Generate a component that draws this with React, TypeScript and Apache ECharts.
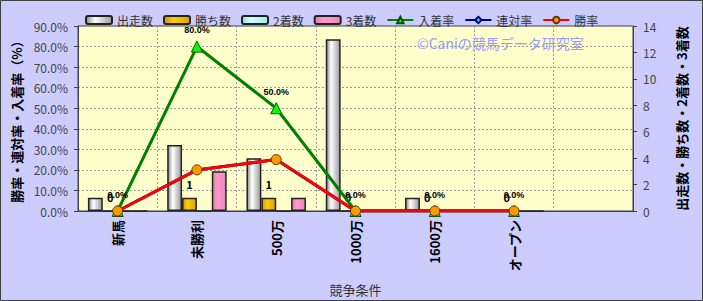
import React, { useEffect, useRef } from "react";
import * as echarts from "echarts";

const categories = ["新馬", "未勝利", "500万", "1000万", "1600万", "オープン", ""];
const starts = [1, 5, 4, 13, 1, 0, null];
const wins = [0, 1, 1, 0, 0, 0, null];
const seconds = [0, 0, 0, 0, 0, 0, null];
const thirds = [0, 3, 1, 0, 0, 0, null];
const placeRate = [0, 80, 50, 0, 0, 0, null];
const rentaiRate = [0, 20, 25, 0, 0, 0, null];
const winRate = [0, 20, 25, 0, 0, 0, null];

const FONT = "'Noto Sans CJK JP', 'Noto Sans', sans-serif";

function grad(c1: string, c2: string, c3: string) {
  return new echarts.graphic.LinearGradient(0, 0, 1, 0, [
    { offset: 0, color: c1 },
    { offset: 0.35, color: c2 },
    { offset: 1, color: c3 },
  ]);
}

export default function App() {
  const ref = useRef<HTMLDivElement>(null);
  useEffect(() => {
    if (!ref.current) return;
    const chart = echarts.init(ref.current, null, { renderer: "svg" });
    const barBase = {
      type: "bar",
      yAxisIndex: 1,
      barGap: "0%",
      barCategoryGap: "25%",
    };
    const splitStyle = { color: "#9a9a9a", type: [2, 2], width: 1 };
    chart.setOption({
      animation: false,
      backgroundColor: "#CCCCFF",
      textStyle: { fontFamily: FONT },
      grid: {
        left: 78,
        right: 70,
        top: 26,
        bottom: 88,
        show: true,
        backgroundColor: "#FFFFCC",
        borderColor: "#404040",
        borderWidth: 1,
      },
      legend: {
        left: 80,
        top: 9,
        itemWidth: 26,
        itemHeight: 8,
        itemGap: 10,
        textStyle: { fontSize: 12, color: "#333", fontFamily: FONT },
        data: ["出走数", "勝ち数", "2着数", "3着数", "入着率", "連対率", "勝率"],
      },
      graphic: [
        {
          type: "text",
          left: 417,
          top: 36,
          z: 100,
          style: {
            text: "©Caniの競馬データ研究室",
            fill: "#9999FF",
            font: `14px ${FONT}`,
          },
        },
        {
          type: "rect",
          shape: { x: 0.5, y: 0.5, width: 702, height: 300 },
          style: { fill: "none", stroke: "#404040", lineWidth: 1 },
          silent: true,
        },
      ],
      xAxis: {
        type: "category",
        data: categories,
        name: "競争条件",
        nameLocation: "middle",
        nameGap: 72,
        nameTextStyle: { fontSize: 13, color: "#333", fontFamily: FONT },
        axisLine: { lineStyle: { color: "#404040" } },
        axisTick: { show: false },
        axisLabel: {
          rotate: 90,
          interval: 0,
          fontSize: 13,
          fontWeight: "bold",
          color: "#000",
          margin: 9,
          fontFamily: FONT,
        },
        splitLine: { show: true, lineStyle: splitStyle },
      },
      yAxis: [
        {
          type: "value",
          min: 0,
          max: 90,
          interval: 10,
          position: "left",
          name: "勝率・連対率・入着率（%）",
          nameLocation: "middle",
          nameGap: 54,
          nameRotate: 90,
          nameTextStyle: { fontSize: 13, fontWeight: "bold", color: "#000", fontFamily: FONT },
          axisLine: { show: true, lineStyle: { color: "#404040" } },
          axisTick: { show: true, length: 4, lineStyle: { color: "#404040" } },
          axisLabel: {
            formatter: (v: number) => v.toFixed(1) + "%",
            fontSize: 12,
            color: "#444",
            margin: 10,
            fontFamily: FONT,
          },
          splitLine: { show: true, lineStyle: splitStyle },
        },
        {
          type: "value",
          min: 0,
          max: 14,
          interval: 2,
          position: "right",
          name: "出走数・勝ち数・2着数・3着数",
          nameLocation: "middle",
          nameGap: 42,
          nameRotate: 90,
          nameTextStyle: { fontSize: 13, fontWeight: "bold", color: "#000", fontFamily: FONT },
          axisLine: { show: true, lineStyle: { color: "#404040" } },
          axisTick: { show: true, length: 4, lineStyle: { color: "#404040" } },
          axisLabel: { fontSize: 12, color: "#444", margin: 10, fontFamily: FONT },
          splitLine: { show: false },
        },
      ],
      series: [
        {
          ...barBase,
          name: "出走数",
          data: starts,
          itemStyle: {
            color: grad("#8a8a8a", "#ffffff", "#9a9a9a"),
            borderColor: "#222",
            borderWidth: 1.5,
          },
        },
        {
          ...barBase,
          name: "勝ち数",
          data: wins,
          itemStyle: {
            color: grad("#cc9900", "#ffcc00", "#d9a600"),
            borderColor: "#222",
            borderWidth: 1.5,
          },
          label: {
            show: true,
            position: "top",
            distance: 8,
            fontSize: 11,
            fontWeight: "bold",
            color: "#000",
            fontFamily: FONT,
          },
        },
        {
          ...barBase,
          name: "2着数",
          data: seconds,
          itemStyle: {
            color: grad("#99dddd", "#ccffff", "#a8e6e6"),
            borderColor: "#222",
            borderWidth: 1.5,
          },
        },
        {
          ...barBase,
          name: "3着数",
          data: thirds,
          itemStyle: {
            color: grad("#e07aaa", "#ff99cc", "#e888b8"),
            borderColor: "#222",
            borderWidth: 1.5,
          },
        },
        {
          type: "line",
          name: "入着率",
          yAxisIndex: 0,
          data: placeRate,
          z: 5,
          symbol: "triangle",
          symbolSize: 11,
          lineStyle: { color: "#008000", width: 3 },
          itemStyle: { color: "#00FF00", borderColor: "#005500", borderWidth: 1 },
          label: {
            show: true,
            position: "top",
            distance: 6,
            fontSize: 9,
            fontWeight: "bold",
            color: "#000",
            fontFamily: "Arial, 'Liberation Sans', sans-serif",
            formatter: (p: any) => (p.value == null ? "" : Number(p.value).toFixed(1) + "%"),
          },
        },
        {
          type: "line",
          name: "連対率",
          yAxisIndex: 0,
          data: rentaiRate,
          z: 6,
          symbol: "diamond",
          symbolSize: 9,
          lineStyle: { color: "#000080", width: 3 },
          itemStyle: { color: "#00FFFF", borderColor: "#000080", borderWidth: 1 },
        },
        {
          type: "line",
          name: "勝率",
          yAxisIndex: 0,
          data: winRate,
          z: 7,
          symbol: "circle",
          symbolSize: 10,
          lineStyle: { color: "#FF0000", width: 3 },
          itemStyle: { color: "#FF9900", borderColor: "#663300", borderWidth: 1 },
        },
      ],
    });
    return () => chart.dispose();
  }, []);
  return (
    <div
      ref={ref}
      style={{ position: "fixed", left: 0, top: 0, width: 703, height: 301 }}
    />
  );
}
